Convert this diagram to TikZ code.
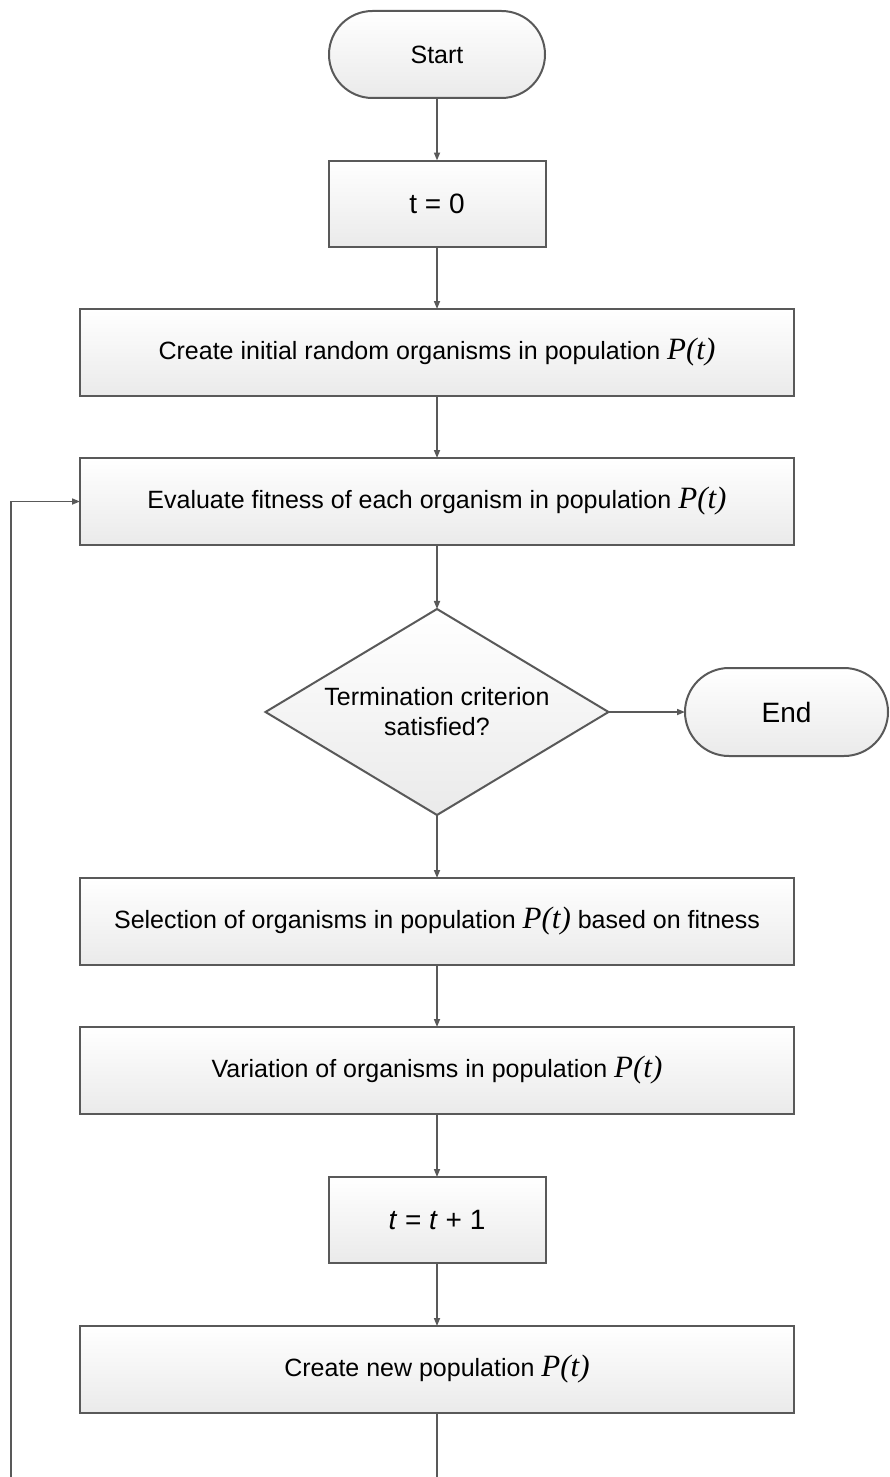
\documentclass[tikz,border=0pt]{standalone}
\usepackage{fontspec}
\setmainfont{Liberation Sans}
\newfontfamily\timesfont{Liberation Serif}
\usetikzlibrary{shapes.geometric,shapes.misc,arrows.meta}
\definecolor{linegray}{RGB}{89,89,89}
\definecolor{boxbottom}{RGB}{234,234,234}
\newcommand{\Pvar}{{\fontsize{31}{31}\selectfont\timesfont\itshape P(t)}}
\tikzset{
  base/.style={draw=linegray, line width=2pt, top color=white, bottom color=boxbottom,
    inner sep=0pt, outer sep=0pt, font=\fontsize{25}{30}\selectfont, text=black},
  widebox/.style={base, rectangle, minimum width=714pt, minimum height=87pt},
  smallbox/.style={base, rectangle, minimum width=217pt, minimum height=86pt, font=\fontsize{28}{32}\selectfont},
  terminal/.style={base, rounded rectangle, minimum height=87pt},
  decision/.style={base, diamond, aspect=1.665, minimum width=343pt, minimum height=206pt, align=center},
  flow/.style={draw=linegray, line width=1.6pt, -{Triangle[length=8pt,width=6pt]}},
  plainline/.style={draw=linegray, line width=1.6pt},
}
\begin{document}
\begin{tikzpicture}[x=1pt,y=-1pt]
\useasboundingbox (0,0) rectangle (889,1477);
\node[terminal, minimum width=216pt] (start) at (437,54.5) {Start};
\node[smallbox] (t0) at (437,203.5) {t = 0};
\node[widebox] (init) at (437,352.5) {Create initial random organisms in population \Pvar};
\node[widebox] (eval) at (437,501.5) {Evaluate fitness of each organism in population \Pvar};
\node[decision] (dec) at (437,712) {Termination criterion\\satisfied?};
\node[terminal, minimum width=203pt, minimum height=88pt, font=\fontsize{28}{32}\selectfont] (end) at (786.5,712) {End};
\node[widebox] (sel) at (437,921.5) {Selection of organisms in population \Pvar{} based on fitness};
\node[widebox] (var) at (437,1070.5) {Variation of organisms in population \Pvar};
\node[smallbox] (inc) at (437,1220) {\textit{t} = \textit{t} + 1};
\node[widebox] (new) at (437,1369.5) {Create new population \Pvar};
\coordinate (newbot) at (437,1477);
\coordinate (loopbot) at (11,1477);
\draw[flow] (start) -- (t0);
\draw[flow] (t0) -- (init);
\draw[flow] (init) -- (eval);
\draw[flow] (eval) -- (dec);
\draw[flow] (dec) -- (end);
\draw[flow] (dec) -- (sel);
\draw[flow] (sel) -- (var);
\draw[flow] (var) -- (inc);
\draw[flow] (inc) -- (new);
\draw[plainline] (new) -- (newbot);
\draw[flow] (loopbot) |- (eval.west);
\end{tikzpicture}
\end{document}
